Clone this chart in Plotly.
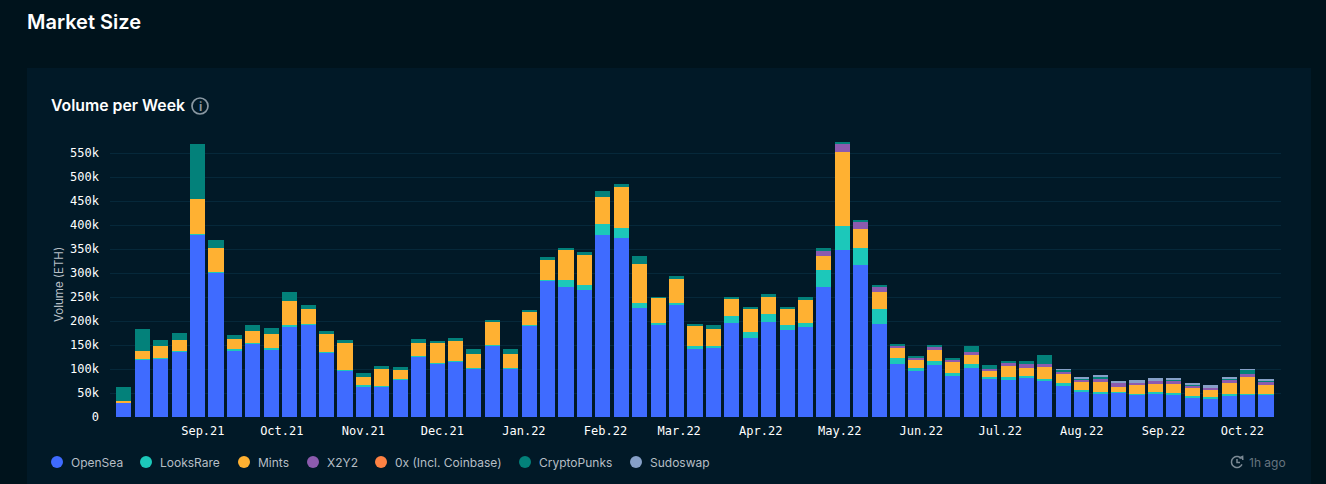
# Market Size - Volume per Week
import math
import pandas as pd
import plotly.graph_objects as go

W, H = 1326, 484

# weekly buckets, values in thousand ETH
weeks = pd.date_range("2021-08-02", periods=63, freq="7D")
month_ticks = ["2021-09-01", "2021-10-01", "2021-11-01", "2021-12-01", "2022-01-01", "2022-02-01", "2022-03-01",
               "2022-04-01", "2022-05-01", "2022-06-01", "2022-07-01", "2022-08-01", "2022-09-01", "2022-10-01"]
month_labels = ["Sep.21", "Oct.21", "Nov.21", "Dec.21", "Jan.22", "Feb.22", "Mar.22",
                "Apr.22", "May.22", "Jun.22", "Jul.22", "Aug.22", "Sep.22", "Oct.22"]

opensea = [30, 120, 123, 136, 380, 301, 140, 154, 141, 190, 193, 134, 98, 65, 63, 78, 126, 111, 116, 101, 149,
           102, 191, 285, 270, 265, 379, 373, 228, 192, 233, 144, 143, 195, 165, 199, 181, 188, 272, 348, 316,
           194, 110, 95, 108, 86, 102, 79, 79, 82, 77, 67, 53, 49, 52, 47, 50, 47, 42, 40, 46, 47, 47]
looksrare = [0, 1, 1, 1, 1, 1, 1, 1, 2, 1, 1, 1, 1, 1, 1, 1, 1, 1, 1, 1, 1,
             1, 1, 1, 15, 11, 23, 22, 10, 5, 5, 3, 6, 16, 12, 16, 11, 9, 35, 50, 36,
             31, 12, 7, 8, 6, 8, 5, 4, 4, 3, 3, 3, 3, 1, 2, 2, 3, 1, 2, 3, 2, 2]
mints = [4, 17, 25, 24, 74, 51, 22, 24, 31, 51, 32, 38, 56, 18, 37, 18, 28, 43, 41, 30, 48,
         29, 26, 43, 64, 61, 56, 85, 82, 52, 52, 45, 34, 34, 50, 36, 35, 47, 29, 155, 39,
         35, 22, 17, 23, 22, 19, 11, 23, 16, 24, 19, 19, 21, 10, 17, 17, 18, 17, 14, 21, 34, 18]
x2y2 = [0, 0, 0, 0, 0, 0, 0, 0, 0, 0, 0, 0, 0, 0, 0, 0, 0, 0, 0, 0, 0,
        0, 0, 0, 0, 0, 0, 0, 0, 0, 0, 0, 0, 0, 0, 0, 0, 0, 11, 17, 17,
        13, 6, 5, 8, 7, 6, 5, 8, 8, 7, 7, 4, 7, 9, 6, 7, 9, 7, 5, 8, 6, 8]
zerox = [0] * 63
punks = [29, 46, 12, 14, 115, 17, 9, 13, 12, 19, 8, 6, 6, 8, 6, 8, 7, 4, 6, 10, 5,
         9, 6, 4, 2, 7, 13, 6, 15, 1, 4, 1, 8, 6, 2, 5, 2, 6, 5, 3, 2,
         3, 2, 2, 2, 3, 14, 8, 2, 7, 18, 3, 2, 5, 1, 1, 1, 1, 1, 1, 1, 10, 1]
sudoswap = [0] * 51 + [1, 1, 1, 3, 4, 4, 3, 2, 4, 5, 1, 4]

names = ["OpenSea", "LooksRare", "Mints", "X2Y2", "0x (Incl. Coinbase)", "CryptoPunks", "Sudoswap"]
series = [opensea, looksrare, mints, x2y2, zerox, punks, sudoswap]
colors = ["#3F6BFF", "#1CC8BA", "#FFB132", "#8C5BAE", "#FF8243", "#03817A", "#86A0C8"]

BG = "#00131C"
CARD = "#011927"
GRID = "#06283A"


def px(x):
    return x / W


def py(y):
    return 1 - y / H


fig = go.Figure()
for name, vals, col in zip(names, series, colors):
    fig.add_bar(x=weeks, y=[v * 1000 for v in vals], name=name, marker_color=col,
                marker_line_width=0, showlegend=False)

fig.update_layout(
    width=W, height=H, margin=dict(l=0, r=0, t=0, b=0),
    barmode="stack", bargap=0.18,
    paper_bgcolor=BG, plot_bgcolor="rgba(0,0,0,0)",
    font=dict(family="Inter", color="#FFFFFF"),
)
fig.update_xaxes(
    automargin=False,
    domain=[px(110), px(1281)],
    range=["2021-07-27 17:00", "2022-10-15 17:00"],
    tickvals=month_ticks, ticktext=month_labels,
    tickfont=dict(family="DejaVu Sans Mono", size=12, color="#FFFFFF"),
    showgrid=False, zeroline=False, showline=False, ticks="", ticklabelstandoff=5,
)
fig.update_yaxes(
    automargin=False,
    domain=[py(417), py(138.8)],
    range=[0, 580000],
    tickvals=[i * 50000 for i in range(12)],
    ticktext=["0"] + [f"{i * 50}k" for i in range(1, 12)],
    tickfont=dict(family="DejaVu Sans Mono", size=12, color="#FFFFFF"),
    gridcolor=GRID, gridwidth=1, zeroline=False, showline=False, ticks="", ticklabelstandoff=10,
)

# card behind the chart
fig.add_shape(type="rect", xref="paper", yref="paper", x0=px(27), x1=px(1311), y0=py(490), y1=py(68),
              fillcolor=CARD, line_width=0, layer="below")


def label(x, y, text, size, color="#FFFFFF", weight=400, anchor="left", angle=0):
    fig.add_annotation(xref="paper", yref="paper", x=px(x), y=py(y), text=text, showarrow=False,
                       xanchor=anchor, yanchor="middle", textangle=angle,
                       font=dict(family="Inter", size=size, color=color, weight=weight),
                       borderpad=0, borderwidth=0)


label(27, 22, "Market Size", 20, weight=600)
label(51, 105, "Volume per Week", 15.8, weight=600)
label(59, 285, "Volume (ETH)", 11.5, color="#B6BEC5", anchor="center", angle=-90)

# info icon
fig.add_shape(type="circle", xref="paper", yref="paper", x0=px(192), x1=px(208), y0=py(114), y1=py(98),
              line=dict(color="#8A98A3", width=1.7))
label(200, 106, "i", 12, color="#8A98A3", weight=700, anchor="center")

# legend
legend_x = [57, 146, 244, 313, 381, 525, 636]
for name, col, lx in zip(names, colors, legend_x):
    fig.add_shape(type="circle", xref="paper", yref="paper", x0=px(lx - 6), x1=px(lx + 6), y0=py(468), y1=py(456),
                  fillcolor=col, line_width=0)
    label(lx + 14, 462, name, 12, color="#B6BEC5")

# refresh clock + age
arc = [(5.5 * math.cos(math.radians(a)), 5.5 * math.sin(math.radians(a))) for a in range(35, 345, 15)]
clock_path = "M " + " L ".join(f"{x:.1f} {y:.1f}" for x, y in arc) + " M 0 3 L 0 -0.5 L 3 -0.5 M 2.2 3.8 L 5.6 5.6 L 5.8 2"
fig.add_shape(type="path", xref="paper", yref="paper", xsizemode="pixel", ysizemode="pixel",
              xanchor=px(1237), yanchor=py(462), path=clock_path,
              line=dict(color="#7C8A95", width=1.5))
label(1249, 462, "1h ago", 12, color="#66747F")

fig.write_html("out.html", config={"displayModeBar": False},
               post_script="document.body.style.margin='0';document.body.style.overflow='hidden';")
